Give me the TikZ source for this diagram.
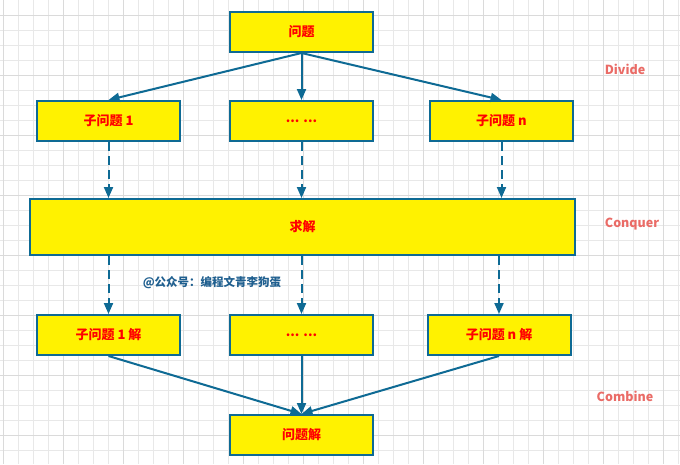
\documentclass[tikz,border=0pt]{standalone}
\usepackage{fontspec}
\newfontfamily\cjk{Noto Sans CJK SC}
\usetikzlibrary{arrows.meta}
\definecolor{boxc}{HTML}{0E6A94}
\definecolor{lab}{HTML}{EA6B66}
\definecolor{wm}{HTML}{1F5F8F}
\definecolor{gminor}{HTML}{E8E8E8}
\definecolor{gmajor}{HTML}{DADADA}
\tikzset{
  box/.style={draw=boxc, fill=yellow, line width=2pt, minimum width=143pt, minimum height=40pt, inner sep=0pt,
    font=\cjk\bfseries\fontsize{13}{15}\selectfont, text=red},
  conn/.style={draw=boxc, line width=2pt, -{Triangle[length=11pt,width=9pt]}},
  dconn/.style={conn, dash pattern=on 9pt off 5pt},
  phase/.style={font=\cjk\bfseries\fontsize{12.5}{14}\selectfont, text=lab},
}
\begin{document}
\begin{tikzpicture}[x=1pt,y=-1pt]
\fill[white] (0,0) rectangle (680,464);
\useasboundingbox (0,0) rectangle (680,464);
\foreach \i in {0,...,45} {
  \pgfmathsetmacro{\xx}{3+15*\i}
  \draw[gminor, line width=0.8pt] (\xx,0) -- (\xx,464);
}
\foreach \j in {1,...,30} {
  \pgfmathsetmacro{\yy}{15*\j}
  \draw[gminor, line width=0.8pt] (0,\yy) -- (680,\yy);
}
\foreach \i in {0,...,11} {
  \pgfmathsetmacro{\xx}{3+60*\i}
  \draw[gmajor, line width=0.8pt] (\xx,0) -- (\xx,464);
}
\foreach \j in {0,...,7} {
  \pgfmathsetmacro{\yy}{15+60*\j}
  \draw[gmajor, line width=0.8pt] (0,\yy) -- (680,\yy);
}

\node[box] (top) at (301.5,32) {问题};
\node[box] (s1) at (108.5,121) {子问题 1};
\node[box] (sm) at (301.5,121) {... ...};
\node[box] (sn) at (501.5,121) {子问题 n};
\node[box, minimum width=545pt, minimum height=56pt] (solve) at (302.5,227) {求解};
\node[box] (r1) at (108.5,335) {子问题 1 解};
\node[box] (rm) at (301.5,335) {... ...};
\node[box] (rn) at (499,335) {子问题 n 解};
\node[box] (fin) at (301.5,435) {问题解};

\node[phase] (dv) at (625,69) {Divide};
\node[phase] (cq) at (632,224) {Conquer};
\node[phase] (cb) at (625,396) {Combine};
\node[font=\cjk\bfseries\fontsize{11.5}{14}\selectfont, text=wm] (wmk) at (212,283) {@公众号：编程文青李狗蛋};

\draw[conn] (top.south) -- (s1.north);
\draw[conn] (top.south) -- (sm.north);
\draw[conn] (top.south) -- (sn.north);

\draw[dconn] (s1.south) -- (s1.south |- solve.north);
\draw[dconn] (sm.south) -- (sm.south |- solve.north);
\draw[dconn] (sn.south) -- (sn.south |- solve.north);

\draw[dconn] (solve.south -| r1.north) -- (r1.north);
\draw[dconn] (solve.south -| rm.north) -- (rm.north);
\draw[dconn] (solve.south -| rn.north) -- (rn.north);

\draw[conn] (r1.south) -- (fin.north);
\draw[conn] (rm.south) -- (fin.north);
\draw[conn] (rn.south) -- (fin.north);
\end{tikzpicture}
\end{document}
